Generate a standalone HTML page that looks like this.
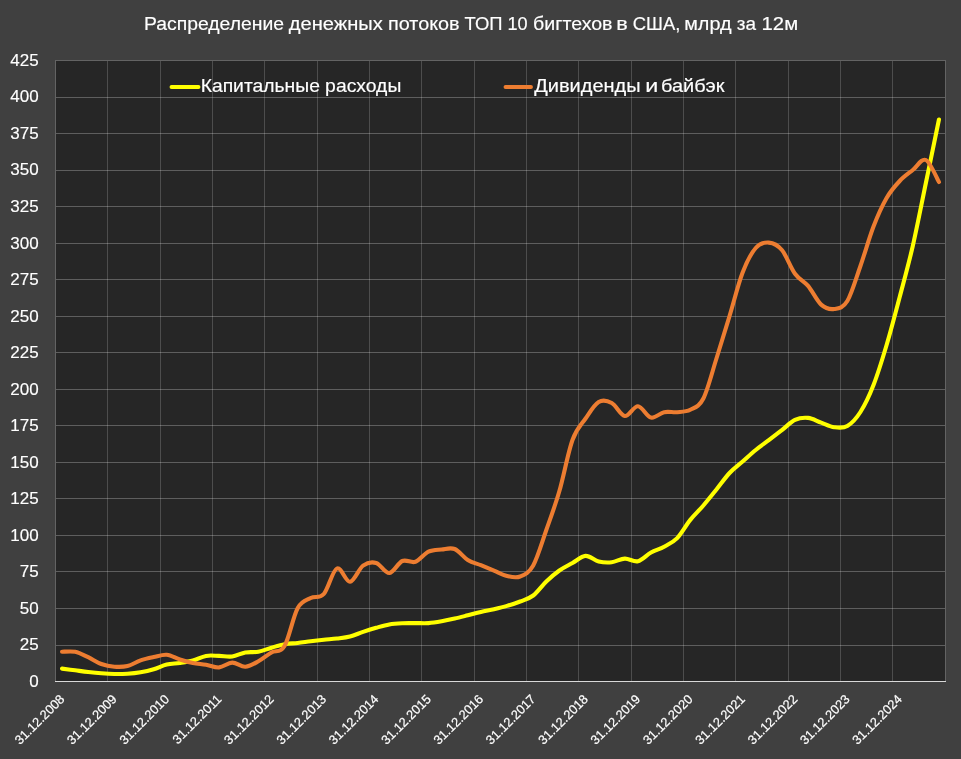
<!DOCTYPE html>
<html><head><meta charset="utf-8"><style>
html,body{margin:0;padding:0;background:#404040;overflow:hidden;}
svg{display:block;will-change:transform;}
</style></head><body>
<svg width="961" height="759" viewBox="0 0 961 759">
<rect x="0" y="0" width="961" height="759" fill="#404040"/>
<rect x="55" y="60" width="891" height="622" fill="#262626"/>
<path d="M55,60.5H946 M55,97.5H946 M55,133.5H946 M55,170.5H946 M55,206.5H946 M55,243.5H946 M55,279.5H946 M55,316.5H946 M55,352.5H946 M55,389.5H946 M55,425.5H946 M55,462.5H946 M55,498.5H946 M55,535.5H946 M55,571.5H946 M55,608.5H946 M55,645.5H946" stroke="#fff" stroke-opacity="0.26" stroke-width="1" fill="none" shape-rendering="crispEdges"/>
<path d="M107.5,60V682 M160.5,60V682 M212.5,60V682 M264.5,60V682 M317.5,60V682 M369.5,60V682 M421.5,60V682 M474.5,60V682 M526.5,60V682 M578.5,60V682 M631.5,60V682 M683.5,60V682 M735.5,60V682 M788.5,60V682 M840.5,60V682 M892.5,60V682" stroke="#fff" stroke-opacity="0.18" stroke-width="1" fill="none" shape-rendering="crispEdges"/>
<path d="M55.5,60V682 M945.5,60V682 M55,60.5H946" stroke="#636363" stroke-width="1" fill="none" shape-rendering="crispEdges"/>
<path d="M55,681.5H946" stroke="#d9d9d9" stroke-width="1" fill="none" shape-rendering="crispEdges"/>
<g font-family="Liberation Sans, sans-serif" font-size="17.0" fill="#ffffff" stroke="#ffffff" stroke-width="0.15"><text x="10.29" y="65.90">425</text><text x="10.29" y="102.43">400</text><text x="10.29" y="138.96">375</text><text x="10.29" y="175.49">350</text><text x="10.29" y="212.02">325</text><text x="10.29" y="248.55">300</text><text x="10.29" y="285.08">275</text><text x="10.29" y="321.61">250</text><text x="10.29" y="358.14">225</text><text x="10.29" y="394.67">200</text><text x="10.29" y="431.20">175</text><text x="10.29" y="467.73">150</text><text x="10.29" y="504.26">125</text><text x="10.29" y="540.79">100</text><text x="19.81" y="577.32">75</text><text x="19.81" y="613.85">50</text><text x="19.81" y="650.38">25</text><text x="29.16" y="686.91">0</text></g>
<g font-family="Liberation Sans, sans-serif" font-size="12.8" fill="#ffffff" stroke="#ffffff" stroke-width="0.2"><text x="65.24" y="700.0" text-anchor="end" transform="rotate(-45 65.24 700.0)">31.12.2008</text><text x="117.60" y="700.0" text-anchor="end" transform="rotate(-45 117.60 700.0)">31.12.2009</text><text x="169.95" y="700.0" text-anchor="end" transform="rotate(-45 169.95 700.0)">31.12.2010</text><text x="222.30" y="700.0" text-anchor="end" transform="rotate(-45 222.30 700.0)">31.12.2011</text><text x="274.66" y="700.0" text-anchor="end" transform="rotate(-45 274.66 700.0)">31.12.2012</text><text x="327.01" y="700.0" text-anchor="end" transform="rotate(-45 327.01 700.0)">31.12.2013</text><text x="379.36" y="700.0" text-anchor="end" transform="rotate(-45 379.36 700.0)">31.12.2014</text><text x="431.71" y="700.0" text-anchor="end" transform="rotate(-45 431.71 700.0)">31.12.2015</text><text x="484.07" y="700.0" text-anchor="end" transform="rotate(-45 484.07 700.0)">31.12.2016</text><text x="536.42" y="700.0" text-anchor="end" transform="rotate(-45 536.42 700.0)">31.12.2017</text><text x="588.77" y="700.0" text-anchor="end" transform="rotate(-45 588.77 700.0)">31.12.2018</text><text x="641.13" y="700.0" text-anchor="end" transform="rotate(-45 641.13 700.0)">31.12.2019</text><text x="693.48" y="700.0" text-anchor="end" transform="rotate(-45 693.48 700.0)">31.12.2020</text><text x="745.83" y="700.0" text-anchor="end" transform="rotate(-45 745.83 700.0)">31.12.2021</text><text x="798.19" y="700.0" text-anchor="end" transform="rotate(-45 798.19 700.0)">31.12.2022</text><text x="850.54" y="700.0" text-anchor="end" transform="rotate(-45 850.54 700.0)">31.12.2023</text><text x="902.89" y="700.0" text-anchor="end" transform="rotate(-45 902.89 700.0)">31.12.2024</text></g>
<path d="M62.04,668.60 C64.23,668.88 70.77,669.73 75.13,670.30 C79.50,670.87 83.86,671.50 88.22,672.00 C92.58,672.50 96.95,672.97 101.31,673.30 C105.67,673.63 110.03,673.93 114.40,674.00 C118.76,674.07 123.12,674.00 127.49,673.70 C131.85,673.40 136.21,672.95 140.57,672.20 C144.94,671.45 149.30,670.48 153.66,669.20 C158.02,667.92 162.39,665.53 166.75,664.50 C171.11,663.47 175.48,663.65 179.84,663.00 C184.20,662.35 188.56,661.78 192.93,660.60 C197.29,659.42 201.65,656.68 206.01,655.90 C210.38,655.12 214.74,655.80 219.10,655.90 C223.47,656.00 227.83,657.07 232.19,656.50 C236.55,655.93 240.92,653.28 245.28,652.50 C249.64,651.72 254.00,652.60 258.37,651.80 C262.73,651.00 267.09,648.97 271.46,647.70 C275.82,646.43 280.18,644.98 284.54,644.20 C288.91,643.42 293.27,643.48 297.63,643.00 C302.00,642.52 306.36,641.83 310.72,641.30 C315.08,640.77 319.45,640.27 323.81,639.80 C328.17,639.33 332.53,639.05 336.90,638.50 C341.26,637.95 345.62,637.60 349.99,636.50 C354.35,635.40 358.71,633.35 363.07,631.90 C367.44,630.45 371.80,629.05 376.16,627.80 C380.52,626.55 384.89,625.17 389.25,624.40 C393.61,623.63 397.98,623.42 402.34,623.20 C406.70,622.98 411.06,623.12 415.43,623.10 C419.79,623.08 424.15,623.40 428.51,623.10 C432.88,622.80 437.24,622.05 441.60,621.30 C445.97,620.55 450.33,619.60 454.69,618.60 C459.05,617.60 463.42,616.42 467.78,615.30 C472.14,614.18 476.50,612.92 480.87,611.90 C485.23,610.88 489.59,610.20 493.96,609.20 C498.32,608.20 502.68,607.18 507.04,605.90 C511.41,604.62 515.77,603.23 520.13,601.50 C524.50,599.77 528.86,598.83 533.22,595.50 C537.58,592.17 541.95,585.67 546.31,581.50 C550.67,577.33 555.03,573.58 559.40,570.50 C563.76,567.42 568.12,565.43 572.49,563.00 C576.85,560.57 581.21,556.17 585.57,555.90 C589.94,555.63 594.30,560.35 598.66,561.40 C603.02,562.45 607.39,562.67 611.75,562.20 C616.11,561.73 620.48,558.77 624.84,558.60 C629.20,558.43 633.56,562.22 637.93,561.20 C642.29,560.18 646.65,554.90 651.01,552.50 C655.38,550.10 659.74,549.20 664.10,546.80 C668.47,544.40 672.83,542.58 677.19,538.10 C681.55,533.62 685.92,525.33 690.28,519.90 C694.64,514.47 699.00,510.57 703.37,505.50 C707.73,500.43 712.09,494.92 716.46,489.50 C720.82,484.08 725.18,477.67 729.54,473.00 C733.91,468.33 738.27,465.33 742.63,461.50 C747.00,457.67 751.36,453.55 755.72,450.00 C760.08,446.45 764.45,443.52 768.81,440.20 C773.17,436.88 777.53,433.48 781.90,430.10 C786.26,426.72 790.62,421.93 794.99,419.90 C799.35,417.87 803.71,417.45 808.07,417.90 C812.44,418.35 816.80,421.05 821.16,422.60 C825.52,424.15 829.89,426.63 834.25,427.20 C838.61,427.77 842.98,428.53 847.34,426.00 C851.70,423.47 856.06,418.83 860.43,412.00 C864.79,405.17 869.15,396.17 873.51,385.00 C877.88,373.83 882.24,359.67 886.60,345.00 C890.97,330.33 895.33,313.50 899.69,297.00 C904.05,280.50 908.42,265.00 912.78,246.00 C917.14,227.00 921.50,204.08 925.87,183.00 C930.23,161.92 936.77,130.08 938.96,119.50" stroke="#ffff00" stroke-width="4.1" fill="none" stroke-linecap="round" stroke-linejoin="round"/>
<path d="M62.04,651.80 C64.23,651.80 70.77,650.90 75.13,651.80 C79.50,652.70 83.86,655.17 88.22,657.20 C92.58,659.23 96.95,662.42 101.31,664.00 C105.67,665.58 110.03,666.37 114.40,666.70 C118.76,667.03 123.12,667.05 127.49,666.00 C131.85,664.95 136.21,661.88 140.57,660.40 C144.94,658.92 149.30,658.03 153.66,657.10 C158.02,656.17 162.39,654.40 166.75,654.80 C171.11,655.20 175.48,658.13 179.84,659.50 C184.20,660.87 188.56,662.13 192.93,663.00 C197.29,663.87 201.65,663.97 206.01,664.70 C210.38,665.43 214.74,667.75 219.10,667.40 C223.47,667.05 227.83,662.72 232.19,662.60 C236.55,662.48 240.92,666.92 245.28,666.70 C249.64,666.48 254.00,663.67 258.37,661.30 C262.73,658.93 267.09,655.05 271.46,652.50 C275.82,649.95 280.18,653.38 284.54,646.00 C288.91,638.62 293.27,616.20 297.63,608.20 C302.00,600.20 306.36,600.37 310.72,598.00 C315.08,595.63 319.45,598.92 323.81,594.00 C328.17,589.08 332.53,570.53 336.90,568.50 C341.26,566.47 345.62,582.28 349.99,581.80 C354.35,581.32 358.71,568.73 363.07,565.60 C367.44,562.47 371.80,561.77 376.16,563.00 C380.52,564.23 384.89,573.33 389.25,573.00 C393.61,572.67 397.98,562.87 402.34,561.00 C406.70,559.13 411.06,563.35 415.43,561.80 C419.79,560.25 424.15,553.75 428.51,551.70 C432.88,549.65 437.24,549.95 441.60,549.50 C445.97,549.05 450.33,547.25 454.69,549.00 C459.05,550.75 463.42,557.30 467.78,560.00 C472.14,562.70 476.50,563.43 480.87,565.20 C485.23,566.97 489.59,568.80 493.96,570.60 C498.32,572.40 502.68,575.02 507.04,576.00 C511.41,576.98 515.77,578.27 520.13,576.50 C524.50,574.73 528.86,573.15 533.22,565.40 C537.58,557.65 541.95,542.40 546.31,530.00 C550.67,517.60 555.03,506.00 559.40,491.00 C563.76,476.00 568.12,452.08 572.49,440.00 C576.85,427.92 581.21,424.83 585.57,418.50 C589.94,412.17 594.30,404.58 598.66,402.00 C603.02,399.42 607.39,400.67 611.75,403.00 C616.11,405.33 620.48,415.47 624.84,416.00 C629.20,416.53 633.56,405.93 637.93,406.20 C642.29,406.47 646.65,416.60 651.01,417.60 C655.38,418.60 659.74,413.10 664.10,412.20 C668.47,411.30 672.83,412.60 677.19,412.20 C681.55,411.80 685.92,412.08 690.28,409.80 C694.64,407.52 699.00,407.05 703.37,398.50 C707.73,389.95 712.09,372.25 716.46,358.50 C720.82,344.75 725.18,330.33 729.54,316.00 C733.91,301.67 738.27,283.83 742.63,272.50 C747.00,261.17 751.36,252.98 755.72,248.00 C760.08,243.02 764.45,242.27 768.81,242.60 C773.17,242.93 777.53,244.82 781.90,250.00 C786.26,255.18 790.62,267.72 794.99,273.70 C799.35,279.68 803.71,280.75 808.07,285.90 C812.44,291.05 816.80,300.75 821.16,304.60 C825.52,308.45 829.89,309.60 834.25,309.00 C838.61,308.40 842.98,308.17 847.34,301.00 C851.70,293.83 856.06,278.42 860.43,266.00 C864.79,253.58 869.15,237.83 873.51,226.50 C877.88,215.17 882.24,205.58 886.60,198.00 C890.97,190.42 895.33,185.67 899.69,181.00 C904.05,176.33 908.42,173.50 912.78,170.00 C917.14,166.50 921.50,158.00 925.87,160.00 C930.23,162.00 936.77,178.33 938.96,182.00" stroke="#ed7d31" stroke-width="4.1" fill="none" stroke-linecap="round" stroke-linejoin="round"/>
<path d="M171.5,87H198.5" stroke="#ffff00" stroke-width="3.9" stroke-linecap="round"/>
<path d="M505.5,87H531" stroke="#ed7d31" stroke-width="3.9" stroke-linecap="round"/>
<g font-family="Liberation Sans, sans-serif" font-size="17.5" fill="#ffffff" stroke="#ffffff" stroke-width="0.15"><text x="200.65" y="92.4" textLength="119.29" lengthAdjust="spacingAndGlyphs">Капитальные</text><text x="325.14" y="92.4" textLength="76.17" lengthAdjust="spacingAndGlyphs">расходы</text><text x="534.20" y="92.4" textLength="106.50" lengthAdjust="spacingAndGlyphs">Дивиденды</text><text x="645.27" y="92.4" textLength="13.03" lengthAdjust="spacingAndGlyphs">и</text><text x="661.00" y="92.4" textLength="63.38" lengthAdjust="spacingAndGlyphs">байбэк</text></g>
<g font-family="Liberation Sans, sans-serif" font-size="17.6" fill="#ffffff" stroke="#ffffff" stroke-width="0.15"><text x="144.05" y="29.8" textLength="139.92" lengthAdjust="spacingAndGlyphs">Распределение</text><text x="288.80" y="29.8" textLength="94.04" lengthAdjust="spacingAndGlyphs">денежных</text><text x="388.01" y="29.8" textLength="71.57" lengthAdjust="spacingAndGlyphs">потоков</text><text x="464.53" y="29.8" textLength="38.00" lengthAdjust="spacingAndGlyphs">ТОП</text><text x="507.43" y="29.8" textLength="20.13" lengthAdjust="spacingAndGlyphs">10</text><text x="533.12" y="29.8" textLength="79.42" lengthAdjust="spacingAndGlyphs">бигтехов</text><text x="616.18" y="29.8" textLength="11.51" lengthAdjust="spacingAndGlyphs">в</text><text x="632.78" y="29.8" textLength="47.54" lengthAdjust="spacingAndGlyphs">США,</text><text x="684.21" y="29.8" textLength="47.34" lengthAdjust="spacingAndGlyphs">млрд</text><text x="736.83" y="29.8" textLength="19.27" lengthAdjust="spacingAndGlyphs">за</text><text x="761.58" y="29.8" textLength="36.54" lengthAdjust="spacingAndGlyphs">12м</text></g>
</svg>
</body></html>
